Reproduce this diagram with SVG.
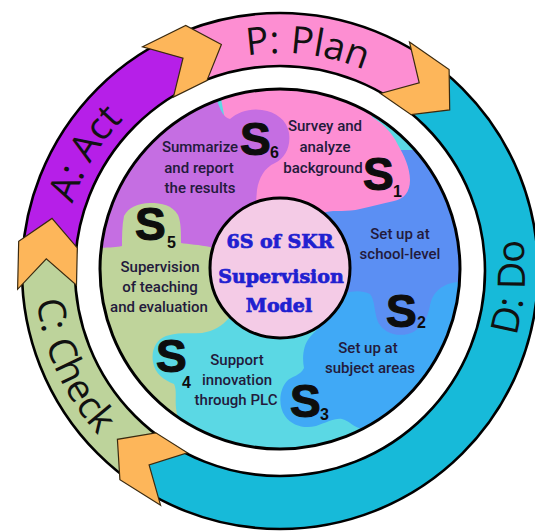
<svg xmlns="http://www.w3.org/2000/svg" width="535" height="532" viewBox="0 0 535 532">
<style>
.ringtxt{font-family:"Open Sans","Liberation Sans",sans-serif;font-size:38px;font-weight:400;fill:#111}
.lbl{font-family:Roboto,"Liberation Sans",sans-serif;font-size:15px;font-weight:500;fill:#231a3b;text-anchor:middle}
.big{font-family:"Liberation Sans",Arial,sans-serif;font-size:46px;font-weight:700;fill:#0d0d0d;stroke:#0d0d0d;stroke-width:1.2}
.sub{font-family:"Liberation Sans",Arial,sans-serif;font-size:16px;font-weight:700;fill:#0d0d0d}
.ctr{font-family:"DejaVu Serif","Liberation Serif",serif;font-size:19px;font-weight:700;fill:#2020d0;stroke:#2020d0;stroke-width:0.7;text-anchor:middle}
.chev{fill:#fdb65a;stroke:#3a2a10;stroke-width:1.2;stroke-linejoin:miter}
.outl{fill:none;stroke:#000;stroke-width:2.6}
</style>
<defs>
<clipPath id="diskclip"><circle cx="280" cy="269" r="180"/></clipPath>
<path id="pP" d="M105.9,137.8 A218 218 0 0 1 480.7,183.8"/>
<path id="pA" d="M89.3,374.7 A218 218 0 0 1 283.8,51.0"/>
<path id="pD" d="M387.4,489.2 A245 245 0 0 0 417.0,65.9"/>
<path id="pC" d="M80.5,126.7 A245 245 0 0 0 256.5,512.9"/>
</defs>
<rect width="535" height="532" fill="#fff"/>
<g id="pdca-ring" transform="translate(0,2)">
<g id="band-plan"><path d="M187.5,28.1 A258 258 0 0 1 445.8,71.4 L411.8,112.0 A205 205 0 0 0 206.5,77.6 Z" fill="#fd8ed2"/></g>
<g id="band-do"><path d="M445.8,71.4 A258 258 0 0 1 122.9,473.7 L155.2,431.6 A205 205 0 0 0 411.8,112.0 Z" fill="#17bad9"/></g>
<g id="band-check"><path d="M122.9,473.7 A258 258 0 0 1 23.7,239.8 L76.3,245.8 A205 205 0 0 0 155.2,431.6 Z" fill="#bdd39b"/></g>
<g id="band-act"><path d="M23.7,239.8 A258 258 0 0 1 187.5,28.1 L206.5,77.6 A205 205 0 0 0 76.3,245.8 Z" fill="#b61fe8"/></g>
<circle class="outl" cx="280" cy="269" r="258"/>
<circle class="outl" cx="280" cy="269" r="205"/>
<g id="connectors">
<polygon class="chev" points="142.6,44.8 185.7,23.5 221.4,42.5 206.9,78.6 173.4,95.1 183.0,56.1"/>
<polygon class="chev" points="409.5,40.1 449.1,67.5 449.7,107.9 411.1,112.7 380.5,91.4 419.2,80.9"/>
<polygon class="chev" points="160.6,503.3 119.9,477.7 117.4,437.3 155.8,430.8 187.4,450.8 149.1,463.0"/>
<polygon class="chev" points="17.6,287.3 18.7,239.2 52.0,216.4 77.3,245.9 76.5,283.2 46.3,256.8"/>
</g>
<text class="ringtxt"><textPath href="#pP" startOffset="50%" text-anchor="middle">P: Plan</textPath></text>
<text class="ringtxt"><textPath href="#pA" startOffset="50%" text-anchor="middle">A: Act</textPath></text>
<text class="ringtxt"><textPath href="#pD" startOffset="50%" text-anchor="middle">D: Do</textPath></text>
<text class="ringtxt"><textPath href="#pC" startOffset="50%" text-anchor="middle">C: Check</textPath></text>
</g>
<g id="disk">
<g clip-path="url(#diskclip)">
<circle cx="280" cy="269" r="180" fill="#5bd8e4"/>
<path id="r-s5" d="M280,268 L280,150 L60,150 L60,480 L190,440 C184,430 177,420 176,408 C175,398 177,390 174,384 C164,380 155,374 153,362 C151,350 156,340 166,336 C178,332 190,334 202,333 C214,331 222,326 229,318 Z" fill="#bfd49b"/>
<path id="r-s3" d="M280,268 L348,290 L338,306 C330,318 318,328 310,337 C303,345 302,358 304,368 C300,376 292,376 287,381 C279,390 278,406 285,416 C292,426 305,429 316,426 C326,423 334,418 342,419 C350,421 354,428 363,429 C374,430 384,420 392,416 L480,400 L480,282 Z" fill="#40a9f6"/>
<path id="r-s2" d="M280,268 L300,150 L480,150 L480,280 C470,280 458,281 448,284 C438,288 432,295 430,305 C428,318 422,330 408,334 C395,337 383,332 378,322 C374,312 375,300 370,294 C362,290 352,291 346,293 Z" fill="#5b8ff3"/>
<path id="r-s1" d="M240,200 L210,40 L370,40 L372,117 C382,123 392,132 398,145 C404,155 410,168 410,180 C410,192 404,199 394,201 C382,204 372,206 360,209 C348,212 334,210 326,212 C322,214 320,216 318,218 L280,268 Z" fill="#fd8ed3"/>
<path id="r-s6" d="M60,40 L217,40 L217,100 C220,110 224,118 230,119 C238,112 250,108 262,110 C276,112 287,120 289,133 C291,147 285,158 275,163 C264,168 259,178 257,190 L256,202 L280,268 L210,247 C200,245 188,244 181,243 C181,232 181,222 178,215 C172,205 162,203 150,203 C138,203 128,208 124,216 C122,226 122,236 122,246 C112,248 100,248 60,248 Z" fill="#c56ee2"/>
</g>
<circle cx="280" cy="269" r="180" fill="none" stroke="#000" stroke-width="3"/>
</g>
<g id="node-s6">
<text class="lbl" x="200" y="152">Summarize</text>
<text class="lbl" x="199" y="172.5">and report</text>
<text class="lbl" x="200" y="193">the results</text>
<text class="big" x="240" y="155">S</text><text class="sub" x="270" y="158">6</text>
</g>
<g id="node-s1">
<text class="lbl" x="325" y="131">Survey and</text>
<text class="lbl" x="325" y="152">analyze</text>
<text class="lbl" x="323" y="173">background</text>
<text class="big" x="363" y="190">S</text><text class="sub" x="393" y="197">1</text>
</g>
<g id="node-s2">
<text class="lbl" x="400" y="239">Set up at</text>
<text class="lbl" x="400" y="259">school-level</text>
<text class="big" x="386" y="327">S</text><text class="sub" x="417" y="328">2</text>
</g>
<g id="node-s3">
<text class="lbl" x="368" y="353">Set up at</text>
<text class="lbl" x="370" y="373">subject areas</text>
<text class="big" x="290" y="417">S</text><text class="sub" x="320" y="420">3</text>
</g>
<g id="node-s4">
<text class="lbl" x="237" y="365">Support</text>
<text class="lbl" x="237" y="385">innovation</text>
<text class="lbl" x="236" y="405">through PLC</text>
<text class="big" x="156" y="372">S</text><text class="sub" x="182" y="388">4</text>
</g>
<g id="node-s5">
<text class="lbl" x="160" y="272">Supervision</text>
<text class="lbl" x="160" y="292">of teaching</text>
<text class="lbl" x="159" y="312">and evaluation</text>
<text class="big" x="135" y="240">S</text><text class="sub" x="167" y="248">5</text>
</g>
<g id="node-center">
<circle cx="280" cy="268" r="70" fill="#f4cbe6" stroke="#000" stroke-width="3"/>
<text class="ctr" x="280" y="248">6S of SKR</text>
<text class="ctr" x="281" y="283">Supervision</text>
<text class="ctr" x="279" y="312">Model</text>
</g>
</svg>
